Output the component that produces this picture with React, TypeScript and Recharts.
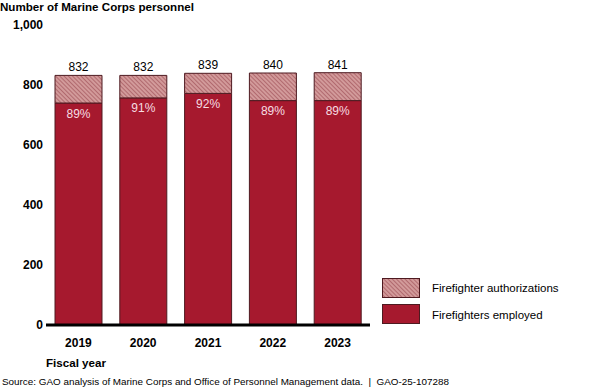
import { Bar, BarChart, LabelList, XAxis, YAxis } from 'recharts';

const years = ['2019', '2020', '2021', '2022', '2023'];
const authorized = [832, 832, 839, 840, 841];
const employed = [740, 757, 772, 748, 748];
const employedPct = ['89%', '91%', '92%', '89%', '89%'];
const yTicks = [0, 200, 400, 600, 800, 1000];

const data = years.map((year, i) => ({
  year,
  employed: employed[i],
  gap: authorized[i] - employed[i],
  total: authorized[i],
  pct: employedPct[i],
}));

const RED = '#a6192e';
const EDGE = '#4e1a20';
const font = '"Liberation Sans", Arial, sans-serif';

const Hatch = () => (
  <defs>
    <pattern id="hatch" width="3" height="3" patternUnits="userSpaceOnUse" patternTransform="rotate(-45)">
      <rect width="3" height="3" fill="#d29a9a" />
      <line x1="0" y1="0" x2="0" y2="3" stroke="#9b4a52" strokeWidth="1.2" />
    </pattern>
  </defs>
);

const abs = (left: number, top: number, extra: React.CSSProperties = {}): React.CSSProperties => ({
  position: 'absolute',
  left,
  top,
  fontFamily: font,
  fontSize: 12,
  color: '#000',
  whiteSpace: 'nowrap',
  lineHeight: 1,
  ...extra,
});

export default function App() {
  return (
    <div style={{ position: 'absolute', left: 0, top: 0, width: 600, height: 389, background: '#fff', overflow: 'hidden' }}>
      <BarChart
        width={600}
        height={389}
        data={data}
        margin={{ top: 25, right: 230, left: 0, bottom: 34 }}
        barSize={47}
        style={{ position: 'absolute', left: 0, top: 0, fontFamily: font }}
      >
        <Hatch />
        <YAxis
          domain={[0, 1000]}
          ticks={yTicks}
          width={46}
          tickLine={false}
          axisLine={false}
          tickSize={0}
          tickMargin={3}
          tickFormatter={(v: number) => v.toLocaleString('en-US')}
          tick={{ fill: '#000', fontSize: 12, fontWeight: 'bold' }}
        />
        <XAxis
          dataKey="year"
          tickLine={false}
          tickSize={0}
          tickMargin={13}
          axisLine={{ stroke: '#000', strokeWidth: 3 }}
          tick={{ fill: '#000', fontSize: 12, fontWeight: 'bold' }}
        />
        <Bar dataKey="employed" stackId="a" fill={RED} stroke={EDGE} strokeWidth={1} isAnimationActive={false}>
          <LabelList dataKey="pct" position="insideTop" offset={6} fill="#f6dde2" fontSize={12} />
        </Bar>
        <Bar dataKey="gap" stackId="a" fill="url(#hatch)" stroke={EDGE} strokeWidth={1} isAnimationActive={false}>
          <LabelList dataKey="total" position="top" offset={4} fill="#000" fontSize={12} />
        </Bar>
      </BarChart>
      <div style={abs(0, 1, { fontWeight: 'bold', fontSize: 11.6 })}>Number of Marine Corps personnel</div>
      <svg width={45} height={50} style={{ position: 'absolute', left: 380, top: 276 }}>
        <Hatch />
        <rect x={2.5} y={2.5} width={37} height={19} fill="url(#hatch)" stroke={EDGE} />
        <rect x={2.5} y={28.5} width={37} height={19} fill={RED} stroke={EDGE} />
      </svg>
      <div style={abs(432, 283, { fontSize: 11.5 })}>Firefighter authorizations</div>
      <div style={abs(432, 310, { fontSize: 11.5 })}>Firefighters employed</div>
      <div style={abs(46, 357, { fontWeight: 'bold', fontSize: 11.6 })}>Fiscal year</div>
      <div style={abs(2, 377, { fontSize: 9.9 })}>
        Source: GAO analysis of Marine Corps and Office of Personnel Management data.&nbsp; |&nbsp; GAO-25-107288
      </div>
    </div>
  );
}
